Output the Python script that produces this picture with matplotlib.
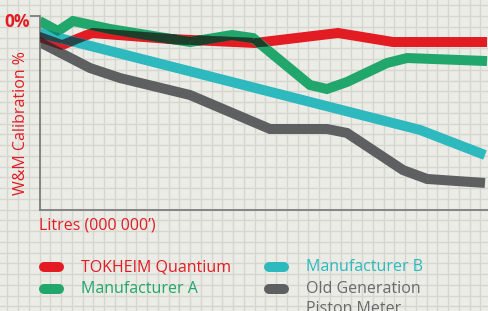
import numpy as np
import matplotlib
matplotlib.use("Agg")
import matplotlib.pyplot as plt
from matplotlib.collections import LineCollection
from matplotlib.colors import to_rgb

plt.rcParams['font.family'] = ['Open Sans', 'DejaVu Sans']

# data (x: grid cells of litres, y: calibration drift, 0 at top)
series_names = ["TOKHEIM Quantium", "Manufacturer A", "Manufacturer B", "Old Generation\nPiston Meter"]
series_colors = ["#e31b23", "#21a76b", "#2db9be", "#5e5f61"]
label_colors = ["#e31b23", "#21a76b", "#2db9be", "#6a6a6c"]

red_x = [0, 2.09, 4.88, 12.14, 20.05, 27.77, 32.88, 41.63]
red_y = [-1.95, -2.70, -1.58, -2.14, -2.51, -1.58, -2.42, -2.42]

green_x = [0, 1.72, 3.12, 6.56, 14.0, 17.9, 19.86, 25.16, 26.74, 28.6, 32.33, 34.19, 36.6, 41.63]
green_y = [-0.47, -1.40, -0.47, -1.21, -2.42, -1.77, -2.05, -6.42, -6.79, -6.14, -4.37, -3.91, -4.0, -4.19]

teal_x = [0, 35.4, 41.44]
teal_y = [-1.58, -10.6, -12.93]

gray_x = [0, 4.70, 7.49, 14.0, 21.44, 26.74, 28.6, 33.81, 36.05, 41.44]
gray_y = [-2.42, -4.84, -5.77, -7.35, -10.51, -10.51, -10.88, -14.33, -15.16, -15.53]

xs = [red_x, green_x, teal_x, gray_x]
ys = [red_y, green_y, teal_y, gray_y]

W, H = 488, 311
cell = 10.75
ax_left, ax_top, ax_bottom = 39.5, 16, 209.5
lw_px = 10

fig = plt.figure(figsize=(W / 100, H / 100), dpi=100)
fig.patch.set_facecolor("#ecece6")

# background grid paper, in pixel units
bg = fig.add_axes([0, 0, 1, 1], zorder=0)
bg.set_xlim(0, W)
bg.set_ylim(H, 0)
bg.axis("off")
for gx in np.arange(ax_left - 4 * cell, W, cell):
    bg.axvline(gx, color="#d6d6d0", lw=1.0)
for gy in np.arange(ax_top - cell, H, cell):
    bg.axhline(gy, color="#d6d6d0", lw=1.0)

ax = fig.add_axes([ax_left / W, (H - ax_bottom) / H, (W - ax_left) / W,
                   (ax_bottom - ax_top) / H], zorder=1)
ax.patch.set_alpha(0)
xmax = (W - ax_left) / cell
ax.set_xlim(0, xmax)
ax.set_ylim(-(ax_bottom - ax_top) / cell, 0)
for s in ["top", "right"]:
    ax.spines[s].set_visible(False)
for s in ["left", "bottom"]:
    ax.spines[s].set_color("#7d7d7d")
    ax.spines[s].set_linewidth(1.3)
ax.set_xticks([])
ax.set_yticks([0])
ax.set_yticklabels([])
ax.tick_params(axis="y", length=7, width=1.3, color="#7d7d7d")

lw = lw_px * 0.72
for x, y, c in zip(xs, ys, series_colors):
    ax.plot(x, y, color=c, lw=lw, solid_capstyle="butt", solid_joinstyle="miter")

# darken where two lines overlap (mimic multiply blending)
fine = np.linspace(0, xmax, 1500)
interp = [np.interp(fine, x, y) for x, y in zip(xs, ys)]
for i in range(len(xs)):
    for j in range(i + 1, len(xs)):
        yi, yj = interp[i], interp[j]
        overlap = lw_px - np.abs(yi - yj) * cell
        mid = (yi + yj) / 2
        col = np.array(to_rgb(series_colors[i])) * np.array(to_rgb(series_colors[j]))
        segs, widths = [], []
        for k in range(len(fine) - 1):
            if overlap[k] > 0 and overlap[k + 1] > 0:
                segs.append([(fine[k], mid[k]), (fine[k + 1], mid[k + 1])])
                widths.append(min(overlap[k], overlap[k + 1]) * 0.72)
        if segs:
            ax.add_collection(LineCollection(segs, linewidths=widths, colors=[col],
                                             capstyle="butt", zorder=3))

red = "#e31b23"
bg.text(30, 22, "0%", color=red, fontsize=12.5, fontweight="bold", ha="right", va="center")
bg.text(21, 123, "W&M Calibration %", color=red, fontsize=11.5, rotation=90,
        ha="center", va="center")
bg.text(39, 225, "Litres (000 000’)", color=red, fontsize=11.5, ha="left", va="center")

# legend
legend_pos = [(44, 267), (44, 289), (269, 267), (269, 289)]
for (lx, ly), name, c, tc in zip(legend_pos, series_names, series_colors, label_colors):
    bg.plot([lx, lx + 15], [ly, ly], color=c, lw=lw, solid_capstyle="round")
    for n, line in enumerate(name.split("\n")):
        bg.text(lx + 37, ly + n * 20, line, color=tc, fontsize=11.5, ha="left", va="center")

fig.savefig("out.png", dpi=100, facecolor=fig.get_facecolor())
